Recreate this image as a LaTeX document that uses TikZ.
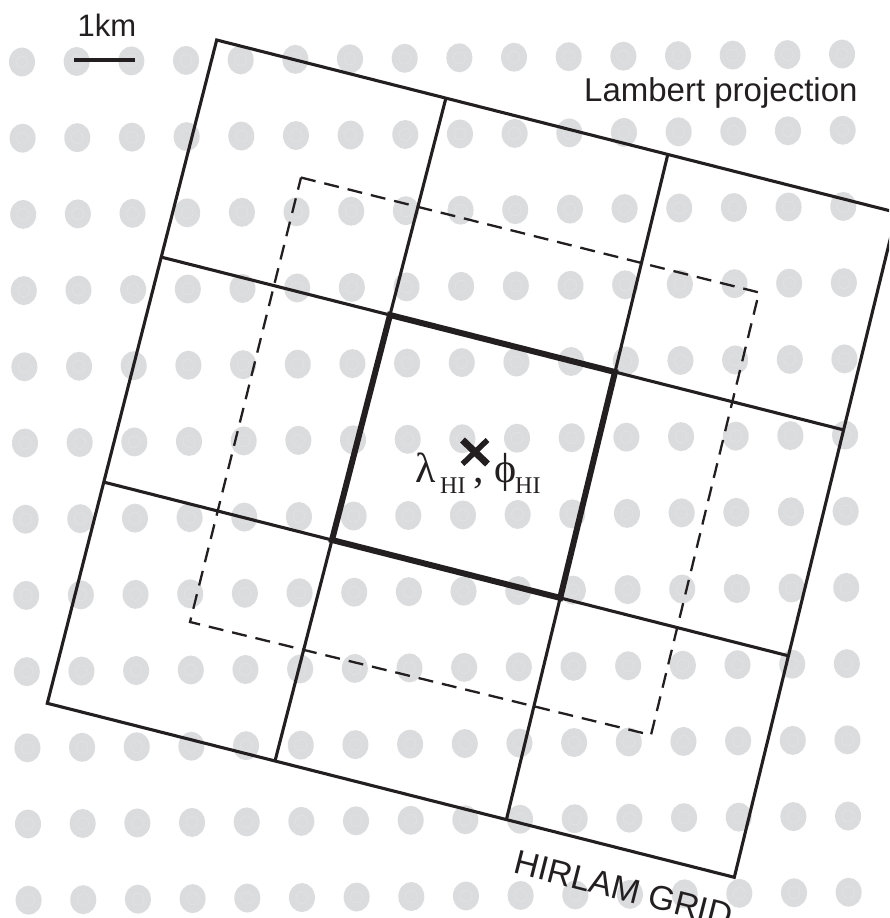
\documentclass[tikz,border=0pt]{standalone}
\usepackage{fontspec}
\usetikzlibrary{calc}
\newfontfamily\sansf{Liberation Sans}
\newfontfamily\seriff{Liberation Serif}
\definecolor{dotgrey}{RGB}{219,220,222}
\definecolor{ringgrey}{RGB}{228,229,231}
\definecolor{ink}{RGB}{35,31,32}
\begin{document}
\begin{tikzpicture}[x=1pt,y=-1pt,
  gridline/.style={draw=ink, line width=3.1pt, line join=miter},
  thickline/.style={draw=ink, line width=6pt, line join=miter},
  dashline/.style={draw=ink, line width=2.3pt, dash pattern=on 15pt off 9pt},
  sanslabel/.style={font=\sansf\fontsize{33}{33}\selectfont, text=ink, inner sep=0pt, anchor=base west},
  greek/.style={font=\seriff\fontsize{42}{42}\selectfont, text=ink, inner sep=0pt, anchor=base west},
  subs/.style={font=\seriff\fontsize{24}{24}\selectfont, text=ink, inner sep=0pt, anchor=base west},
  dotstyle/.style={fill=dotgrey},
  ringstyle/.style={draw=ringgrey, line width=0.4pt}]
\useasboundingbox (0,0) rectangle (889,918);
\clip (0,0) rectangle (889,918);
\fill[white] (0,0) rectangle (889,918);
% background dots
\foreach \i in {0,...,15}{
  \foreach \k in {0,...,11}{
    \pgfmathsetmacro\dx{22+54.67*\i+0.6*\k}
    \pgfmathsetmacro\dy{62-0.53*\i+76.2*\k}
    \fill[dotstyle] (\dx,\dy) ellipse [x radius=13pt, y radius=14.5pt];
    \draw[ringstyle] (\dx,\dy) circle [radius=6pt];
  }
}
% grid coordinates
\coordinate (TL) at (216.7,40);
\coordinate (TR) at (896.7,212.5);
\coordinate (BR) at (734.3,877.3);
\coordinate (BL) at (47.3,703.3);
\coordinate (V1t) at (445.9,98.1);
\coordinate (V1b) at (275.0,761.0);
\coordinate (V2t) at (667.8,154.5);
\coordinate (V2b) at (506.4,819.6);
\coordinate (H1l) at (161.3,257.1);
\coordinate (H1r) at (843.6,429.9);
\coordinate (H2l) at (103.8,482.1);
\coordinate (H2r) at (788.4,655.8);
\coordinate (I1) at (390,315);
\coordinate (I2) at (615,372);
\coordinate (I3) at (560.2,597.9);
\coordinate (I4) at (332,540);
\coordinate (D1) at (301,177.5);
\coordinate (D2) at (759,292.5);
\coordinate (D3) at (651,735);
\coordinate (D4) at (190,622);
% dashed square
\draw[dashline] (D1) -- (D2) -- (D3) -- (D4) -- cycle;
% grid
\draw[gridline] (TL) -- (TR) -- (BR) -- (BL) -- cycle;
\draw[gridline] (V1t) -- (V1b);
\draw[gridline] (V2t) -- (V2b);
\draw[gridline] (H1l) -- (H1r);
\draw[gridline] (H2l) -- (H2r);
\draw[thickline] (I1) -- (I2) -- (I3) -- (I4) -- cycle;
% scale bar
\coordinate (S1) at (74,60);
\coordinate (S2) at (135,60);
\draw[draw=ink, line width=3.4pt] (S1) -- (S2);
\node[sanslabel, font=\sansf\fontsize{31}{31}\selectfont] (km) at (77.5,36.7) {1km};
\node[sanslabel] (lambert) at (584,101.7) {Lambert projection};
\node[sanslabel, font=\sansf\fontsize{34}{34}\selectfont, rotate=-14.2] (hirlam) at (512.6,872.7) {HIRLAM GRID};
% centre cross
\coordinate (C) at (475,452);
\coordinate (Ca) at ($(C)+(-12.5,-12)$);
\coordinate (Cb) at ($(C)+(12.5,12)$);
\coordinate (Cc) at ($(C)+(12.5,-12)$);
\coordinate (Cd) at ($(C)+(-12.5,12)$);
\draw[draw=ink, line width=7pt] (Ca) -- (Cb);
\draw[draw=ink, line width=5.5pt] (Cc) -- (Cd);
% coordinate label
\node[greek] (lam) at (415,482) {λ};
\node[subs] (lamsub) at (440,493) {HI};
\node[greek] (comma) at (473,482) {,};
\node[greek] (phi) at (494,482) {ϕ};
\node[subs] (phisub) at (515,493) {HI};
\end{tikzpicture}
\end{document}
